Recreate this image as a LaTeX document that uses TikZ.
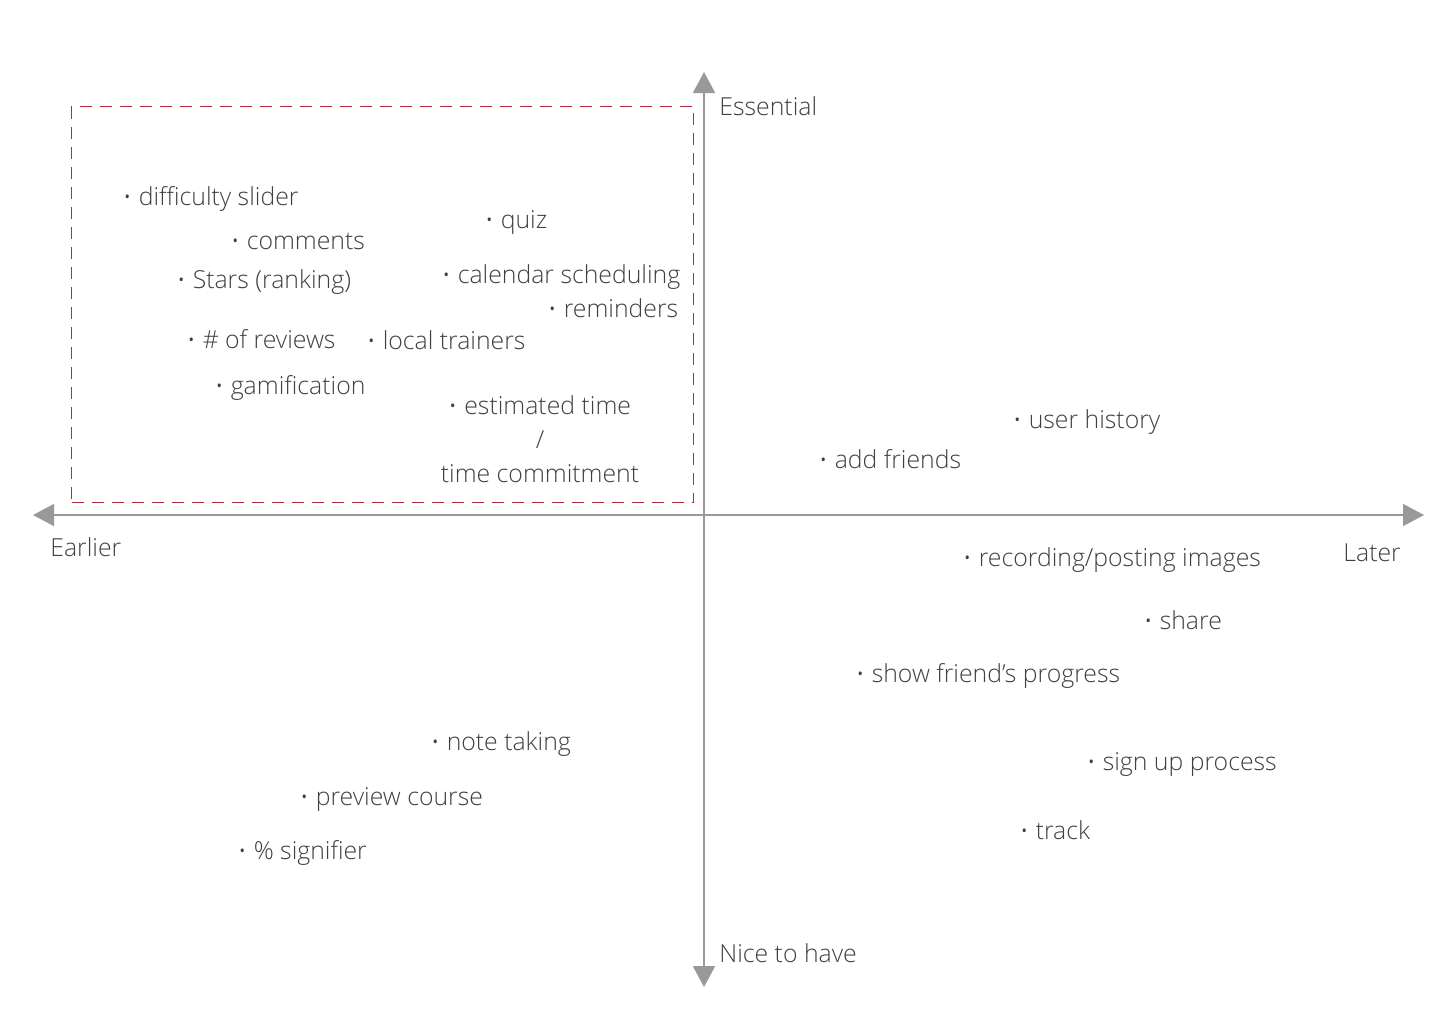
\documentclass[tikz,border=0pt]{standalone}
\usepackage{fontspec}
\IfFontExistsTF{Open Sans Light}{\setmainfont{Open Sans Light}}{\setmainfont{Open Sans}}
\usetikzlibrary{arrows.meta}
\definecolor{axisgrey}{HTML}{999999}
\definecolor{txtgrey}{HTML}{404040}
\definecolor{boxred}{HTML}{B5293A}
\tikzset{
  axisline/.style={draw=axisgrey, line width=0.7pt, {Triangle[length=10.5pt,width=11pt]}-{Triangle[length=10.5pt,width=11pt]}},
  lbl/.style={anchor=mid west, inner sep=0pt, yshift=-1.5pt, text=txtgrey, font=\fontsize{12.4}{14}\selectfont},
  item/.style={lbl},
  dashbox/.style={draw=boxred, line width=0.6pt, dash pattern=on 6pt off 4pt}
}
\newcommand{\bul}{\raisebox{0.02em}{\scalebox{0.85}{•}}\hspace{0.3em}}
\begin{document}
\begin{tikzpicture}[x=0.5pt,y=-0.5pt]
\useasboundingbox (0,0) rectangle (1440,1024);
% dashed box
\node[dashbox, minimum width=311pt, minimum height=198pt, anchor=north west, inner sep=0pt] (box) at (71,106) {};
% axes
\coordinate (W) at (33,515);
\coordinate (E) at (1424,515);
\coordinate (N) at (704,72);
\coordinate (S) at (704,987);
\draw[axisline] (W) -- (E);
\draw[axisline, line width=1pt] (N) -- (S);
% axis labels
\node[lbl] (ess) at (719,107) {Essential};
\node[lbl] (ear) at (50,548) {Earlier};
\node[lbl] (lat) at (1343,553) {Later};
\node[lbl] (nice) at (719,954) {Nice to have};
% items
\node[item] (i1) at (123,197) {\bul difficulty slider};
\node[item] (i2) at (231,241) {\bul comments};
\node[item] (i3) at (177,280) {\bul Stars (ranking)};
\node[item] (i4) at (485,220) {\bul quiz};
\node[item] (i5) at (442,275) {\bul calendar scheduling};
\node[item] (i6) at (548,309) {\bul reminders};
\node[item] (i7) at (187,340) {\bul \# of reviews};
\node[item] (i8) at (367,341) {\bul local trainers};
\node[item] (i9) at (215,386) {\bul gamification};
\node[lbl, anchor=north, yshift=0pt, align=center, font=\fontsize{12.4}{17}\selectfont] (i10) at (540,392) {\bul estimated time\\/\\time commitment};
\node[item] (i11) at (1013,420) {\bul user history};
\node[item] (i12) at (819,460) {\bul add friends};
\node[item] (i13) at (963,558) {\bul recording/posting images};
\node[item] (i14) at (1144,621) {\bul share};
\node[item] (i15) at (856,674) {\bul show friend’s progress};
\node[item] (i16) at (431,742) {\bul note taking};
\node[item] (i17) at (1087,762) {\bul sign up process};
\node[item] (i18) at (300,797) {\bul preview course};
\node[item] (i19) at (1020,831) {\bul track};
\node[item] (i20) at (238,851) {\bul \% signifier};
\end{tikzpicture}
\end{document}
